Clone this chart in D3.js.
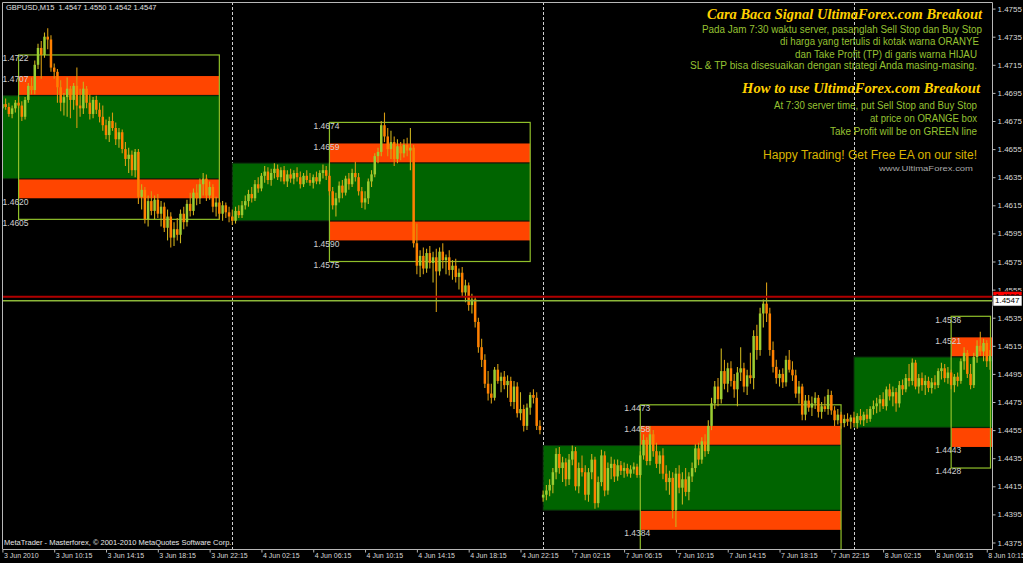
<!DOCTYPE html>
<html><head><meta charset="utf-8">
<script src="https://cdn.jsdelivr.net/npm/d3@7"></script>
<style>
html,body{margin:0;padding:0;background:#000;overflow:hidden;}
svg{display:block;font-family:"Liberation Sans",Arial,sans-serif;}
</style></head>
<body>
<svg id="chart" width="1023" height="563"></svg>
<script>
// ---------- DATA ----------
const headerText = "GBPUSD,M15  1.4547 1.4550 1.4542 1.4547";
const copyrightText = "MetaTrader - Masterforex, \u00A9 2001-2010 MetaQuotes Software Corp.";

const opens = [
1.4684,1.4687,1.4685,1.4680,1.4684,1.4688,1.4686,1.4678,1.4690,1.4700,
1.4697,1.4715,1.4727,1.4722,1.4735,1.4733,1.4713,1.4710,1.4699,1.4688,
1.4692,1.4698,1.4690,1.4700,1.4686,1.4684,1.4698,1.4688,1.4680,1.4690,
1.4683,1.4678,1.4672,1.4665,1.4675,1.4670,1.4662,1.4667,1.4655,1.4648,
1.4651,1.4640,1.4653,1.4621,1.4626,1.4605,1.4618,1.4611,1.4619,1.4609,
1.4614,1.4599,1.4607,1.4592,1.4598,1.4594,1.4609,1.4603,1.4616,1.4611,
1.4624,1.4620,1.4630,1.4634,1.4622,1.4628,1.4614,1.4617,1.4609,1.4615,
1.4610,1.4607,1.4604,1.4611,1.4608,1.4615,1.4618,1.4623,1.4620,1.4630,
1.4627,1.4636,1.4639,1.4633,1.4638,1.4641,1.4635,1.4640,1.4632,1.4637,
1.4634,1.4638,1.4635,1.4630,1.4636,1.4633,1.4631,1.4635,1.4632,1.4638,
1.4640,1.4636,1.4625,1.4615,1.4620,1.4629,1.4624,1.4634,1.4630,1.4638,
1.4635,1.4625,1.4617,1.4620,1.4632,1.4637,1.4650,1.4653,1.4672,1.4664,
1.4655,1.4660,1.4648,1.4657,1.4652,1.4658,1.4654,1.4656,1.4588,1.4572,
1.4579,1.4570,1.4581,1.4574,1.4578,1.4568,1.4582,1.4576,1.4578,1.4569,
1.4572,1.4564,1.4567,1.4553,1.4558,1.4544,1.4548,1.4532,1.4514,1.4505,
1.4488,1.4481,1.4478,1.4498,1.4490,1.4493,1.4487,1.4490,1.4475,1.4486,
1.4467,1.4470,1.4458,1.4471,1.4480,1.4478,1.4458,1.4407,1.4409,1.4412,
1.4416,1.4425,1.4438,1.4428,1.4432,1.4420,1.4434,1.4440,1.4415,1.4428,
1.4425,1.4409,1.4425,1.4434,1.4403,1.4418,1.4437,1.4412,1.4428,1.4431,
1.4422,1.4430,1.4426,1.4428,1.4424,1.4427,1.4429,1.4423,1.4437,1.4448,
1.4433,1.4452,1.4440,1.4431,1.4437,1.4424,1.4418,1.4421,1.4398,1.4424,
1.4414,1.4420,1.4411,1.4422,1.4428,1.4442,1.4434,1.4447,1.4440,1.4458,
1.4474,1.4486,1.4477,1.4497,1.4488,1.4499,1.4490,1.4484,1.4496,1.4499,
1.4486,1.4494,1.4492,1.4522,1.4512,1.4538,1.4545,1.4538,1.4512,1.4500,
1.4492,1.4495,1.4489,1.4505,1.4498,1.4494,1.4481,1.4486,1.4466,1.4476,
1.4471,1.4474,1.4478,1.4468,1.4472,1.4470,1.4480,1.4469,1.4462,1.4466,
1.4460,1.4463,1.4461,1.4464,1.4460,1.4465,1.4462,1.4466,1.4463,1.4470,
1.4472,1.4474,1.4477,1.4472,1.4484,1.4479,1.4482,1.4474,1.4487,1.4484,
1.4492,1.4490,1.4503,1.4486,1.4492,1.4487,1.4490,1.4485,1.4489,1.4487,
1.4497,1.4499,1.4492,1.4496,1.4487,1.4493,1.4490,1.4504,1.4510,1.4495,
1.4487,1.4507,1.4515,1.4511,1.4517,1.4504];

const highs = [
1.4690,1.4691,1.4688,1.4686,1.4690,1.4692,1.4689,1.4692,1.4702,1.4706,
1.4718,1.4730,1.4732,1.4738,1.4741,1.4736,1.4716,1.4712,1.4704,1.4695,
1.4706,1.4700,1.4702,1.4713,1.4698,1.4703,1.4700,1.4694,1.4692,1.4693,
1.4688,1.4686,1.4676,1.4678,1.4681,1.4674,1.4670,1.4669,1.4660,1.4656,
1.4654,1.4655,1.4655,1.4630,1.4628,1.4622,1.4625,1.4622,1.4623,1.4618,
1.4617,1.4612,1.4610,1.4603,1.4606,1.4612,1.4614,1.4619,1.4624,1.4627,
1.4630,1.4634,1.4638,1.4637,1.4632,1.4630,1.4621,1.4620,1.4618,1.4617,
1.4614,1.4612,1.4614,1.4615,1.4618,1.4622,1.4626,1.4628,1.4633,1.4635,
1.4638,1.4643,1.4642,1.4641,1.4645,1.4644,1.4642,1.4643,1.4640,1.4641,
1.4640,1.4642,1.4639,1.4638,1.4640,1.4638,1.4637,1.4639,1.4640,1.4644,
1.4643,1.4638,1.4628,1.4624,1.4632,1.4633,1.4636,1.4638,1.4641,1.4646,
1.4638,1.4628,1.4625,1.4634,1.4640,1.4652,1.4656,1.4675,1.4681,1.4670,
1.4668,1.4664,1.4662,1.4660,1.4662,1.4663,1.4670,1.4658,1.4602,1.4583,
1.4585,1.4584,1.4586,1.4582,1.4584,1.4585,1.4588,1.4580,1.4583,1.4576,
1.4577,1.4570,1.4571,1.4562,1.4560,1.4552,1.4550,1.4535,1.4520,1.4509,
1.4497,1.4488,1.4500,1.4502,1.4496,1.4497,1.4494,1.4493,1.4490,1.4489,
1.4482,1.4473,1.4474,1.4482,1.4484,1.4482,1.4462,1.4412,1.4416,1.4420,
1.4428,1.4442,1.4443,1.4436,1.4435,1.4438,1.4444,1.4443,1.4432,1.4437,
1.4430,1.4428,1.4438,1.4436,1.4422,1.4441,1.4440,1.4432,1.4436,1.4434,
1.4434,1.4433,1.4432,1.4431,1.4430,1.4432,1.4431,1.4440,1.4452,1.4450,
1.4458,1.4455,1.4446,1.4440,1.4442,1.4430,1.4426,1.4425,1.4428,1.4430,
1.4425,1.4428,1.4425,1.4432,1.4445,1.4446,1.4450,1.4452,1.4462,1.4478,
1.4490,1.4492,1.4513,1.4505,1.4503,1.4504,1.4495,1.4500,1.4514,1.4503,
1.4498,1.4510,1.4526,1.4530,1.4542,1.4548,1.4560,1.4542,1.4518,1.4505,
1.4498,1.4499,1.4508,1.4512,1.4504,1.4498,1.4490,1.4488,1.4480,1.4480,
1.4479,1.4482,1.4480,1.4475,1.4479,1.4484,1.4483,1.4472,1.4470,1.4468,
1.4466,1.4467,1.4466,1.4468,1.4467,1.4470,1.4468,1.4470,1.4472,1.4476,
1.4478,1.4480,1.4482,1.4486,1.4488,1.4486,1.4485,1.4490,1.4491,1.4495,
1.4502,1.4506,1.4505,1.4495,1.4496,1.4494,1.4493,1.4492,1.4494,1.4499,
1.4503,1.4502,1.4500,1.4498,1.4495,1.4496,1.4506,1.4514,1.4512,1.4502,
1.4510,1.4519,1.4525,1.4520,1.4519,1.4512];

const lows = [
1.4680,1.4683,1.4678,1.4677,1.4681,1.4684,1.4675,1.4676,1.4688,1.4694,
1.4694,1.4712,1.4705,1.4720,1.4726,1.4710,1.4705,1.4688,1.4682,1.4679,
1.4678,1.4677,1.4683,1.4670,1.4678,1.4680,1.4684,1.4676,1.4677,1.4680,
1.4674,1.4668,1.4662,1.4660,1.4668,1.4658,1.4656,1.4652,1.4643,1.4638,
1.4636,1.4635,1.4616,1.4612,1.4602,1.4600,1.4608,1.4605,1.4606,1.4600,
1.4596,1.4590,1.4585,1.4586,1.4590,1.4588,1.4598,1.4600,1.4607,1.4608,
1.4615,1.4616,1.4622,1.4618,1.4619,1.4610,1.4607,1.4605,1.4604,1.4606,
1.4603,1.4601,1.4602,1.4606,1.4606,1.4612,1.4614,1.4617,1.4618,1.4624,
1.4625,1.4631,1.4630,1.4629,1.4634,1.4633,1.4632,1.4630,1.4628,1.4631,
1.4630,1.4632,1.4627,1.4628,1.4631,1.4629,1.4627,1.4630,1.4630,1.4634,
1.4633,1.4622,1.4612,1.4607,1.4617,1.4620,1.4622,1.4626,1.4628,1.4632,
1.4622,1.4613,1.4612,1.4616,1.4628,1.4635,1.4645,1.4650,1.4660,1.4650,
1.4648,1.4643,1.4645,1.4647,1.4649,1.4650,1.4640,1.4585,1.4566,1.4564,
1.4566,1.4567,1.4570,1.4560,1.4539,1.4565,1.4570,1.4566,1.4565,1.4562,
1.4560,1.4555,1.4550,1.4546,1.4540,1.4538,1.4528,1.4510,1.4500,1.4485,
1.4476,1.4474,1.4476,1.4488,1.4482,1.4484,1.4478,1.4472,1.4470,1.4464,
1.4462,1.4454,1.4455,1.4466,1.4474,1.4455,1.4452,1.4404,1.4405,1.4408,
1.4410,1.4420,1.4424,1.4418,1.4415,1.4416,1.4430,1.4412,1.4410,1.4422,
1.4405,1.4404,1.4420,1.4399,1.4400,1.4415,1.4408,1.4409,1.4420,1.4418,
1.4419,1.4423,1.4421,1.4422,1.4421,1.4424,1.4421,1.4421,1.4434,1.4430,
1.4430,1.4436,1.4428,1.4424,1.4420,1.4412,1.4409,1.4392,1.4386,1.4410,
1.4402,1.4408,1.4405,1.4418,1.4425,1.4430,1.4431,1.4436,1.4438,1.4455,
1.4470,1.4472,1.4474,1.4484,1.4482,1.4486,1.4478,1.4472,1.4490,1.4482,
1.4480,1.4488,1.4484,1.4505,1.4508,1.4528,1.4532,1.4508,1.4496,1.4488,
1.4486,1.4485,1.4486,1.4496,1.4490,1.4478,1.4474,1.4462,1.4462,1.4468,
1.4465,1.4470,1.4464,1.4463,1.4468,1.4466,1.4466,1.4458,1.4459,1.4456,
1.4457,1.4458,1.4456,1.4457,1.4456,1.4459,1.4458,1.4460,1.4461,1.4466,
1.4467,1.4468,1.4470,1.4469,1.4476,1.4472,1.4468,1.4471,1.4480,1.4482,
1.4486,1.4487,1.4484,1.4481,1.4483,1.4480,1.4482,1.4481,1.4484,1.4485,
1.4491,1.4489,1.4488,1.4484,1.4482,1.4486,1.4488,1.4498,1.4492,1.4484,
1.4485,1.4503,1.4508,1.4504,1.4500,1.4498];

const closes = [
1.4687,1.4685,1.4680,1.4684,1.4688,1.4686,1.4678,1.4690,1.4700,1.4697,
1.4715,1.4727,1.4722,1.4735,1.4733,1.4713,1.4710,1.4699,1.4688,1.4692,
1.4698,1.4690,1.4700,1.4686,1.4684,1.4698,1.4688,1.4680,1.4690,1.4683,
1.4678,1.4672,1.4665,1.4675,1.4670,1.4662,1.4667,1.4655,1.4648,1.4651,
1.4640,1.4653,1.4621,1.4626,1.4605,1.4618,1.4611,1.4619,1.4609,1.4614,
1.4599,1.4607,1.4592,1.4598,1.4594,1.4609,1.4603,1.4616,1.4611,1.4624,
1.4620,1.4630,1.4634,1.4622,1.4628,1.4614,1.4617,1.4609,1.4615,1.4610,
1.4607,1.4604,1.4611,1.4608,1.4615,1.4618,1.4623,1.4620,1.4630,1.4627,
1.4636,1.4639,1.4633,1.4638,1.4641,1.4635,1.4640,1.4632,1.4637,1.4634,
1.4638,1.4635,1.4630,1.4636,1.4633,1.4631,1.4635,1.4632,1.4638,1.4640,
1.4636,1.4625,1.4615,1.4620,1.4629,1.4624,1.4634,1.4630,1.4638,1.4635,
1.4625,1.4617,1.4620,1.4632,1.4637,1.4650,1.4653,1.4672,1.4664,1.4655,
1.4660,1.4648,1.4657,1.4652,1.4658,1.4654,1.4656,1.4588,1.4572,1.4579,
1.4570,1.4581,1.4574,1.4578,1.4568,1.4582,1.4576,1.4578,1.4569,1.4572,
1.4564,1.4567,1.4553,1.4558,1.4544,1.4548,1.4532,1.4514,1.4505,1.4488,
1.4481,1.4478,1.4498,1.4490,1.4493,1.4487,1.4490,1.4475,1.4486,1.4467,
1.4470,1.4458,1.4471,1.4480,1.4478,1.4458,1.4455,1.4409,1.4412,1.4416,
1.4425,1.4438,1.4428,1.4432,1.4420,1.4434,1.4440,1.4415,1.4428,1.4425,
1.4409,1.4425,1.4434,1.4403,1.4418,1.4437,1.4412,1.4428,1.4431,1.4422,
1.4430,1.4426,1.4428,1.4424,1.4427,1.4429,1.4423,1.4437,1.4448,1.4433,
1.4452,1.4440,1.4431,1.4437,1.4424,1.4418,1.4421,1.4398,1.4424,1.4414,
1.4420,1.4411,1.4422,1.4428,1.4442,1.4434,1.4447,1.4440,1.4458,1.4474,
1.4486,1.4477,1.4497,1.4488,1.4499,1.4490,1.4484,1.4496,1.4499,1.4486,
1.4494,1.4492,1.4522,1.4512,1.4538,1.4545,1.4538,1.4512,1.4500,1.4492,
1.4495,1.4489,1.4505,1.4498,1.4494,1.4481,1.4486,1.4466,1.4476,1.4471,
1.4474,1.4478,1.4468,1.4472,1.4470,1.4480,1.4469,1.4462,1.4466,1.4460,
1.4463,1.4461,1.4464,1.4460,1.4465,1.4462,1.4466,1.4463,1.4470,1.4472,
1.4474,1.4477,1.4472,1.4484,1.4479,1.4482,1.4474,1.4487,1.4484,1.4492,
1.4490,1.4503,1.4486,1.4492,1.4487,1.4490,1.4485,1.4489,1.4487,1.4497,
1.4499,1.4492,1.4496,1.4487,1.4493,1.4490,1.4504,1.4510,1.4495,1.4487,
1.4507,1.4515,1.4511,1.4517,1.4504,1.4508];

// bar index of each time label (bar 0 = 3 Jun 06:15, M15 bars)
const xTickIndex = [0,16,32,48,64,80,96,112,128,144,160,176,192,208,224,240,256,272,288,304];
const xTickLabels = ["3 Jun 2010","3 Jun 10:15","3 Jun 14:15","3 Jun 18:15","3 Jun 22:15",
  "4 Jun 02:15","4 Jun 06:15","4 Jun 10:15","4 Jun 14:15","4 Jun 18:15","4 Jun 22:15",
  "7 Jun 02:15","7 Jun 06:15","7 Jun 10:15","7 Jun 14:15","7 Jun 18:15","7 Jun 22:15",
  "8 Jun 02:15","8 Jun 06:15","8 Jun 10:15"];
const yTickValues = [1.4755,1.4735,1.4715,1.4695,1.4675,1.4655,1.4635,1.4615,1.4595,1.4575,
  1.4555,1.4535,1.4515,1.4495,1.4475,1.4455,1.4435,1.4415,1.4395,1.4375];
const daySeparators = [71,167,263];   // first bar of 4, 7, 8 Jun

// breakout boxes, one per day
const boxRangeStart = [-25,71,167,263];   // 00:00 bar
const boxEntryStart = [5,101,197,293];    // 07:30 bar
const boxEnd = [67,163,259,355];          // 23:00 bar
const boxTpUp  = [1.4722,1.4674,1.4473,1.4536];
const boxBuy   = [1.4707,1.4659,1.4458,1.4521];
const boxHigh  = [1.4693,1.4645,1.4444,1.4507];
const boxLow   = [1.4634,1.4604,1.4398,1.4457];
const boxSell  = [1.4620,1.4590,1.4384,1.4443];
const boxTpDn  = [1.4605,1.4575,1.4369,1.4428];

const askPrice = 1.4550, bidPrice = 1.4547;

const titleId = "Cara Baca Signal UltimaForex.com Breakout";
const linesId = ["Pada Jam 7:30 waktu server, pasanglah Sell Stop dan Buy Stop",
  "di harga yang tertulis di kotak warna ORANYE",
  "dan Take Profit (TP) di garis warna HIJAU",
  "SL & TP bisa disesuaikan dengan strategi Anda masing-masing."];
const titleEn = "How to use UltimaForex.com Breakout";
const linesEn = ["At 7:30 server time, put Sell Stop and Buy Stop",
  "at price on ORANGE box",
  "Take Profit will be on GREEN line"];
const happyText = "Happy Trading! Get Free EA on our site!";
const siteText = "www.UltimaForex.com";

// ---------- LAYOUT ----------
const SANS = "Liberation Sans, Arial, sans-serif";
const SERIF = "Liberation Serif, DejaVu Serif, serif";
const L = 2, R = 992, T = 2, B = 549;
const svg = d3.select("#chart");
svg.append("rect").attr("width",1023).attr("height",563).attr("fill","#000");

const x = d3.scaleLinear().domain([0,305]).range([2.4, 990.0]);
const y = d3.scaleLinear().domain([1.4375,1.4755]).range([542.5, 8.6]);

svg.append("defs").append("clipPath").attr("id","clip")
  .append("rect").attr("x",L).attr("y",T).attr("width",R-L).attr("height",B-T);

const plot = svg.append("g").attr("clip-path","url(#clip)");

// period separators
plot.selectAll("line.sep").data(daySeparators).join("line")
  .attr("x1",d=>Math.round(x(d))+0.5).attr("x2",d=>Math.round(x(d))+0.5)
  .attr("y1",T).attr("y2",B)
  .attr("stroke","#d0d0d0").attr("stroke-width",1).attr("stroke-dasharray","3,2");

// boxes
const boxes = boxTpUp.map((v,k)=>({k}));
plot.selectAll("rect.green").data(boxes).join("rect")
  .attr("x",d=>x(boxRangeStart[d.k])).attr("width",d=>x(boxEnd[d.k])-x(boxRangeStart[d.k]))
  .attr("y",d=>y(boxHigh[d.k])).attr("height",d=>y(boxLow[d.k])-y(boxHigh[d.k]))
  .attr("fill","#006400").attr("stroke","#0b2e0b").attr("stroke-width",1);
plot.selectAll("rect.buy").data(boxes).join("rect")
  .attr("x",d=>x(boxEntryStart[d.k])).attr("width",d=>x(boxEnd[d.k])-x(boxEntryStart[d.k]))
  .attr("y",d=>y(boxBuy[d.k])).attr("height",d=>y(boxHigh[d.k])-y(boxBuy[d.k])-0.8)
  .attr("fill","#ff4500");
plot.selectAll("rect.sell").data(boxes).join("rect")
  .attr("x",d=>x(boxEntryStart[d.k])).attr("width",d=>x(boxEnd[d.k])-x(boxEntryStart[d.k]))
  .attr("y",d=>y(boxLow[d.k])+0.8).attr("height",d=>y(boxSell[d.k])-y(boxLow[d.k])-0.8)
  .attr("fill","#ff4500");
plot.selectAll("rect.tp").data(boxes).join("rect")
  .attr("x",d=>x(boxEntryStart[d.k])).attr("width",d=>Math.min(x(boxEnd[d.k]),990.5)-x(boxEntryStart[d.k]))
  .attr("y",d=>y(boxTpUp[d.k])).attr("height",d=>y(boxTpDn[d.k])-y(boxTpUp[d.k]))
  .attr("fill","none").attr("stroke","#8fbf2a").attr("stroke-width",1.2);

// candles
const bars = closes.map((c,i)=>({i,o:opens[i],h:highs[i],l:lows[i],c}));
plot.selectAll("line.wick").data(bars).join("line")
  .attr("x1",d=>x(d.i)).attr("x2",d=>x(d.i))
  .attr("y1",d=>y(d.h)).attr("y2",d=>y(d.l))
  .attr("stroke",d=>d.c>=d.o?"#c9b21e":"#d49a12").attr("stroke-width",1.1);
plot.selectAll("rect.body").data(bars).join("rect")
  .attr("x",d=>x(d.i)-1.25).attr("width",2.5)
  .attr("y",d=>y(Math.max(d.o,d.c)))
  .attr("height",d=>Math.max(1,Math.abs(y(d.o)-y(d.c))))
  .attr("fill",d=>d.c>=d.o?"#9acd32":"#ff8000");

// box level labels (only those that fall inside the plot)
const levelSets = [boxTpUp,boxBuy,boxSell,boxTpDn];
const lblData = [];
boxes.forEach(b=>levelSets.forEach(arr=>lblData.push({k:b.k,v:arr[b.k]})));
plot.selectAll("text.lvl").data(lblData.filter(d=>y(d.v)+8 < B)).join("text")
  .attr("x",d=>x(boxEntryStart[d.k])-16).attr("y",d=>y(d.v)+4)
  .attr("dominant-baseline","middle")
  .style("font-family",SANS).style("font-size","8.5px").attr("fill","#d0d0d0")
  .text(d=>d.v.toFixed(4));

// ask / bid lines
plot.append("line").attr("x1",L).attr("x2",R).attr("y1",y(askPrice)).attr("y2",y(askPrice))
  .attr("stroke","#b00000").attr("stroke-width",2);
plot.append("line").attr("x1",L).attr("x2",R).attr("y1",y(bidPrice)).attr("y2",y(bidPrice))
  .attr("stroke","#8db83a").attr("stroke-width",1.5);

// frame
svg.append("path").attr("d",`M${L+0.5},${B}V${T+0.5}H${R+0.5}V${B+0.5}H${L+0.5}`)
  .attr("fill","none").attr("stroke","#b8b8b8").attr("stroke-width",1);

// right axis
const yAxis = d3.axisRight(y).tickValues(yTickValues).tickSize(3).tickSizeOuter(0)
  .tickPadding(2).tickFormat(d=>d.toFixed(4));
const gy = svg.append("g").attr("transform",`translate(${R+0.5},0)`).call(yAxis);
gy.select(".domain").remove();
gy.selectAll("line").attr("stroke","#b8b8b8");
gy.selectAll("text").attr("fill","#d8d8d8").style("font-size","8px").style("font-family",SANS);

// bottom axis
const xAxis = d3.axisBottom(x).tickValues(xTickIndex).tickSize(3).tickSizeOuter(0)
  .tickFormat((d,i)=>xTickLabels[i]);
const gx = svg.append("g").attr("transform",`translate(0,${B+0.5})`).call(xAxis);
gx.select(".domain").remove();
gx.selectAll("line").attr("stroke","#b8b8b8");
gx.selectAll("text").attr("fill","#d8d8d8").style("font-size","7px").style("font-family",SANS)
  .attr("text-anchor","start").attr("x",1).attr("y",4).attr("dy","0.71em");

// price tags on axis
const tag = (v,bg,fg)=>{
  const g = svg.append("g");
  g.append("rect").attr("x",R+1).attr("y",y(v)-5.2).attr("width",29).attr("height",10.4)
    .attr("fill",bg).attr("stroke","#000").attr("stroke-width",0.6);
  g.append("text").attr("x",R+3).attr("y",y(v)).attr("dominant-baseline","middle")
    .style("font-size","8px").style("font-family",SANS).attr("fill",fg).text(v.toFixed(4));
};
tag(askPrice,"#ff0000","#000");
tag(bidPrice,"#ffffff","#000");

// header & copyright
svg.append("text").attr("x",6).attr("y",8.5).attr("dominant-baseline","middle")
  .style("font-size","7.5px").style("font-family",SANS).style("white-space","pre")
  .attr("fill","#e0e0e0").text(headerText);
svg.append("text").attr("x",4).attr("y",543.5).attr("dominant-baseline","middle")
  .style("font-size","7.5px").style("font-family",SANS).attr("fill","#e8e8e8").text(copyrightText);

// info text block (right aligned)
const info = svg.append("g");
const put = (txt,x0,x1,yc,size,color,serif)=>{
  info.append("text").attr("x",x0).attr("y",yc).attr("dominant-baseline","middle")
    .style("font-size",size+"px").attr("fill",color)
    .style("font-family",serif?SERIF:SANS)
    .style("font-style",serif?"italic":"normal").style("font-weight",serif?"bold":"normal")
    .attr("textLength",x1-x0).attr("lengthAdjust","spacingAndGlyphs").text(txt);
};
put(titleId,707,982,15.5,15,"#ffd000",true);
put(linesId[0],702,982,30,10,"#96c232",false);
put(linesId[1],780,979,42.7,10,"#96c232",false);
put(linesId[2],795,977,55,10,"#96c232",false);
put(linesId[3],690,977,66.7,10,"#96c232",false);
put(titleEn,742,980,90,15,"#ffd000",true);
put(linesEn[0],774,977,106,10,"#96c232",false);
put(linesEn[1],870,977,119.3,10,"#96c232",false);
put(linesEn[2],830,977,132.7,10,"#96c232",false);
put(happyText,763,977,155.7,12,"#d9b400",false);
put(siteText,879,973,169.3,8,"#a8a8a8",false);
</script>
</body></html>
